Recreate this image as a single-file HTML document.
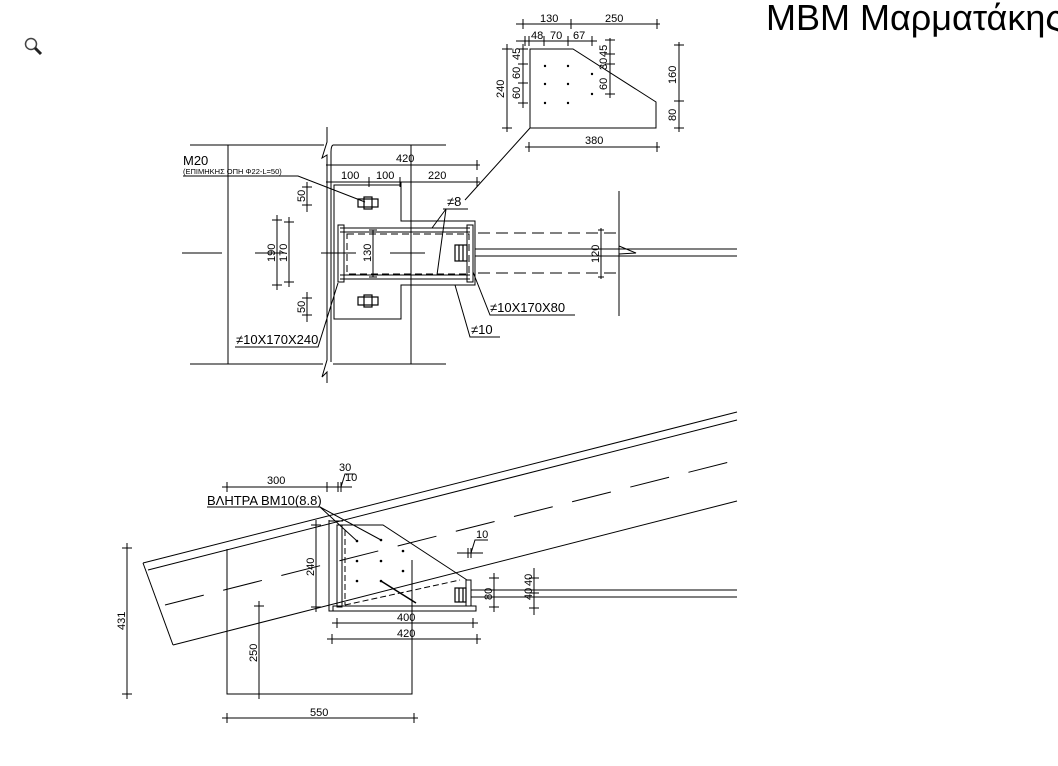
<!DOCTYPE html>
<html><head><meta charset="utf-8"><style>
html,body{margin:0;padding:0;background:#fff;width:1058px;height:766px;overflow:hidden}
svg{display:block}
text{font-family:"Liberation Sans","DejaVu Sans",sans-serif;fill:#000}
.t{font-size:11px}
</style></head><body>
<svg width="1058" height="766" viewBox="0 0 1058 766" xmlns="http://www.w3.org/2000/svg">
<g stroke="#000" stroke-width="1" fill="none">
<circle cx="31" cy="44" r="5.5" stroke="#444" stroke-width="1.5"/>
<line x1="35" y1="48" x2="41" y2="54" stroke="#222" stroke-width="3"/>

<path d="M530 49 L573 49 L656 102 L656 128 L530 128 Z"/>
<line x1="530" y1="128" x2="465" y2="200"/>
<line x1="516" y1="24" x2="660" y2="24"/>
<line x1="516" y1="41" x2="597" y2="41"/>
<line x1="507" y1="44" x2="507" y2="132"/>
<line x1="523" y1="44" x2="523" y2="108"/>
<line x1="610" y1="38" x2="610" y2="98"/>
<line x1="679" y1="42" x2="679" y2="132"/>
<line x1="525" y1="147" x2="660" y2="147"/>
<g stroke-width="1">
<path d="M523 19v10M571 19v10M657 19v10M525 36v10M529 36v10M544 36v10M568 36v10M592 36v10"/>
<path d="M502 49h10M502 128h10M518 49h10M518 64h10M518 83h10M518 103h10"/>
<path d="M605 40h10M605 54h10M605 64h10M605 94h10M674 45h10M674 101h10M674 128h10"/>
<path d="M529 142v10M657 142v10"/>
</g>
</g>
<g fill="#000">
<circle cx="545" cy="66" r="1.2"/><circle cx="568" cy="66" r="1.2"/>
<circle cx="545" cy="84" r="1.2"/><circle cx="568" cy="84" r="1.2"/>
<circle cx="545" cy="103" r="1.2"/><circle cx="568" cy="103" r="1.2"/>
<circle cx="592" cy="74" r="1.2"/><circle cx="592" cy="94" r="1.2"/>
</g>
<text class="t" x="540" y="22">130</text><text class="t" x="605" y="22">250</text>
<text class="t" x="531" y="39" font-size="10">48</text><text class="t" x="550" y="39" font-size="10">70</text><text class="t" x="573" y="39" font-size="10">67</text>
<text class="t" transform="translate(504,98) rotate(-90)">240</text>
<text class="t" transform="translate(520,60) rotate(-90)">45</text>
<text class="t" transform="translate(520,79) rotate(-90)">60</text>
<text class="t" transform="translate(520,99) rotate(-90)">60</text>
<text class="t" transform="translate(607,57) rotate(-90)">45</text>
<text class="t" transform="translate(607,70) rotate(-90)">30</text>
<text class="t" transform="translate(607,90) rotate(-90)">60</text>
<text class="t" transform="translate(676,84) rotate(-90)">160</text>
<text class="t" transform="translate(676,121) rotate(-90)">80</text>
<text class="t" x="585" y="144">380</text>

<g stroke="#000" fill="none">
<line x1="190" y1="145" x2="324" y2="145"/><line x1="333" y1="145" x2="446" y2="145"/>
<line x1="190" y1="364" x2="323" y2="364"/><line x1="333" y1="364" x2="446" y2="364"/>
<line x1="228" y1="145" x2="228" y2="364"/><line x1="411" y1="145" x2="411" y2="364"/>
<path d="M327 127 L327 142 L322 158 L327 155 L327 360 L322 377 L327 372 L327 383"/>
<path d="M333 145 Q331 146 331 152 L331 362"/>
<path d="M334 185 L401 185 L401 221 L475 221 L475 285 L401 285 L401 319 L334 319 Z"/>
<line x1="340" y1="228" x2="470" y2="228"/><line x1="340" y1="232" x2="470" y2="232"/>
<line x1="340" y1="275" x2="470" y2="275"/><line x1="340" y1="279" x2="470" y2="279"/>
<rect x="338" y="225" width="6" height="57"/><rect x="467" y="225" width="6" height="57"/>
<rect x="347" y="234" width="122" height="40" stroke-dasharray="7,4"/>
<line x1="182" y1="253" x2="222" y2="253"/><line x1="255" y1="253" x2="285" y2="253"/>
<line x1="321" y1="253" x2="356" y2="253"/><line x1="390" y1="253" x2="425" y2="253"/>
<line x1="475" y1="249" x2="737" y2="249"/><line x1="475" y1="256" x2="737" y2="256"/>
<line x1="478" y1="233" x2="620" y2="233" stroke-dasharray="12,6"/>
<line x1="478" y1="273" x2="620" y2="273" stroke-dasharray="12,6"/>
<line x1="619" y1="191" x2="619" y2="316"/>
<path d="M619 246 L636 253 L619 254"/>
<line x1="601" y1="228" x2="601" y2="279"/>
<path d="M598 230h6M598 277h6"/>
<g stroke-width="1.2">
<rect x="358" y="199" width="20" height="8"/><rect x="364" y="197" width="8" height="12"/>
<rect x="358" y="297" width="20" height="8"/><rect x="364" y="295" width="8" height="12"/>
<rect x="455" y="245" width="12" height="16"/><line x1="459" y1="245" x2="459" y2="261"/><line x1="463" y1="245" x2="463" y2="261"/>
</g>
<line x1="326" y1="165" x2="480" y2="165"/><line x1="326" y1="182" x2="480" y2="182"/>
<path d="M331 160v10M477 160v10M331 177v10M369 177v10M400 177v10M477 177v10"/>
<line x1="401" y1="182" x2="401" y2="221"/>
<line x1="307" y1="182" x2="307" y2="212"/><path d="M302 187h10M302 205h10"/>
<line x1="307" y1="292" x2="307" y2="322"/><path d="M302 298h10M302 315h10"/>
<line x1="277" y1="215" x2="277" y2="290"/><path d="M272 220h10M272 285h10"/>
<line x1="289" y1="217" x2="289" y2="287"/><path d="M284 222h10M284 282h10"/>
<line x1="373" y1="230" x2="373" y2="277"/><path d="M369 230h8M369 277h8"/>
<path d="M183 176 L298 176 L365 202"/>
<path d="M235 347 L318 347 L338 283"/>
<path d="M443 209 L468 209 M446 209 L432 228 M446 209 L437 275"/>
<path d="M575 315 L490 315 L473 272"/>
<path d="M500 337 L470 337 L455 285"/>
</g>
<text x="183" y="165" font-size="13">M20</text>
<text x="183" y="174" font-size="7.5">(ΕΠΙΜΗΚΗΣ ΟΠΗ Φ22-L=50)</text>
<text class="t" x="396" y="162">420</text>
<text class="t" x="341" y="179">100</text><text class="t" x="376" y="179">100</text><text class="t" x="428" y="179">220</text>
<text class="t" transform="translate(305,202) rotate(-90)">50</text>
<text class="t" transform="translate(305,313) rotate(-90)">50</text>
<text class="t" transform="translate(275,262) rotate(-90)">190</text>
<text class="t" transform="translate(287,262) rotate(-90)">170</text>
<text class="t" transform="translate(371,262) rotate(-90)">130</text>
<text class="t" transform="translate(599,263) rotate(-90)">120</text>
<text x="447" y="206" font-size="13">≠8</text>
<text x="236" y="344" font-size="13">≠10X170X240</text>
<text x="490" y="312" font-size="13">≠10X170X80</text>
<text x="471" y="334" font-size="13">≠10</text>

<g stroke="#000" fill="none">
<line x1="143" y1="563" x2="737" y2="412"/>
<line x1="148" y1="570" x2="737" y2="420"/>
<line x1="173" y1="645" x2="737" y2="501"/>
<line x1="143" y1="563" x2="173" y2="645"/>
<line x1="165" y1="605" x2="737" y2="460" stroke-dasharray="40,20"/>
<path d="M227 549 L227 694 L412 694 L412 587"/>
<path d="M342 525 L383 525 L467 580"/>
<rect x="337" y="525" width="5" height="82"/>
<rect x="333" y="606" width="143" height="5"/>
<rect x="466" y="580" width="5" height="26"/>
<path d="M329 520 L329 611 L333 611"/>
<path d="M329 521 L343 521"/>
<line x1="345" y1="530" x2="345" y2="605" stroke-dasharray="6,3"/>
<line x1="345" y1="605" x2="460" y2="580" stroke-dasharray="6,3"/>
<line x1="381" y1="581" x2="416" y2="603" stroke-width="1.5"/>
<line x1="412" y1="560" x2="412" y2="587"/>
<g stroke-width="1.2">
<rect x="455" y="588" width="11" height="14"/><line x1="459" y1="588" x2="459" y2="602"/><line x1="463" y1="588" x2="463" y2="602"/>
</g>
<line x1="471" y1="590" x2="737" y2="590"/><line x1="471" y1="597" x2="737" y2="597"/>
<line x1="222" y1="487" x2="352" y2="487"/>
<path d="M227 482v10M327 482v10M338 482v10M341 482v10"/>
<path d="M341 487 L345 474 L355 474"/>
<line x1="316" y1="520" x2="316" y2="612"/><path d="M311 525h10M311 607h10"/>
<line x1="127" y1="543" x2="127" y2="699"/><path d="M122 548h10M122 694h10"/>
<line x1="259" y1="601" x2="259" y2="699"/><path d="M254 606h10M254 694h10"/>
<line x1="222" y1="718" x2="418" y2="718"/><path d="M227 713v10M414 713v10"/>
<line x1="332" y1="623" x2="478" y2="623"/><path d="M337 618v10M473 618v10"/>
<line x1="327" y1="639" x2="481" y2="639"/><path d="M332 634v10M477 634v10"/>
<line x1="494" y1="573" x2="494" y2="612"/><path d="M489 578h10M489 607h10"/>
<line x1="534" y1="568" x2="534" y2="615"/><path d="M529 578h10M529 593h10M529 608h10"/>
<line x1="457" y1="553" x2="483" y2="553"/><path d="M468 548v10M471 548v10 M471 553 L475 540 L488 540"/>
<path d="M207 507 L320 507 L357 541 M320 507 L381 540"/>
</g>
<g fill="#000">
<circle cx="357" cy="541" r="1.3"/><circle cx="381" cy="540" r="1.3"/>
<circle cx="357" cy="561" r="1.3"/><circle cx="381" cy="561" r="1.3"/><circle cx="403" cy="551" r="1.3"/>
<circle cx="357" cy="581" r="1.3"/><circle cx="381" cy="581" r="1.3"/><circle cx="403" cy="571" r="1.3"/>
</g>
<text class="t" x="267" y="484">300</text>
<text class="t" x="339" y="471" font-size="10">30</text>
<text class="t" x="345" y="481" font-size="10">10</text>
<text x="207" y="505" font-size="13">ΒΛΗΤΡΑ ΒΜ10(8.8)</text>
<text class="t" transform="translate(314,576) rotate(-90)">240</text>
<text class="t" transform="translate(125,630) rotate(-90)">431</text>
<text class="t" transform="translate(257,662) rotate(-90)">250</text>
<text class="t" x="310" y="716">550</text>
<text class="t" x="397" y="621">400</text>
<text class="t" x="397" y="637">420</text>
<text class="t" transform="translate(492,600) rotate(-90)">80</text>
<text class="t" transform="translate(532,600) rotate(-90)">40</text>
<text class="t" transform="translate(532,586) rotate(-90)">40</text>
<text class="t" x="476" y="538" font-size="10">10</text>

<text x="766" y="30" font-size="36">ΜΒΜ Μαρματάκης</text>
</svg>
</body></html>
